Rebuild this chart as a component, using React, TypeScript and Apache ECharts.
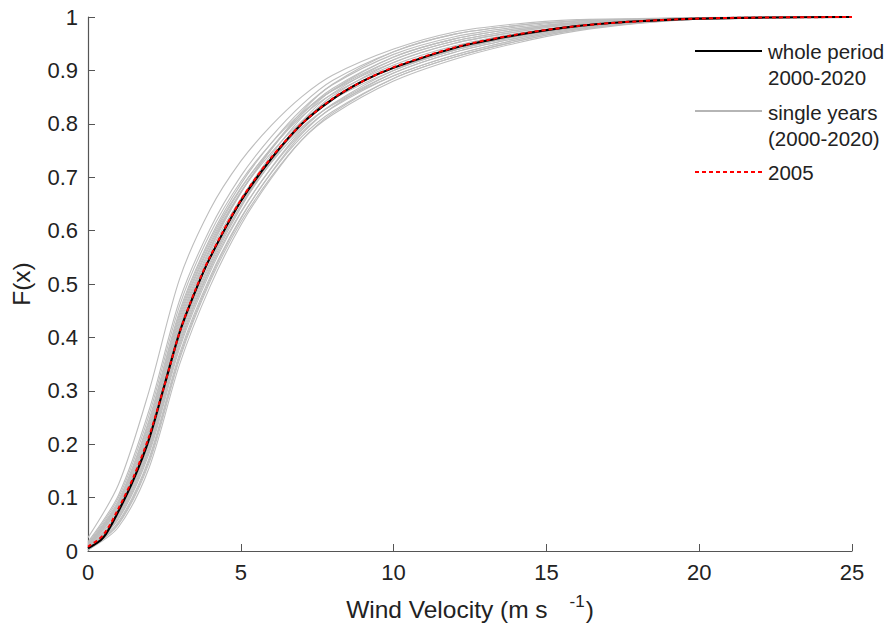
import React, { useEffect, useRef } from "react";
import * as echarts from "echarts";

// x grid for the main curves
const xMain = [0, 0.5, 1, 1.5, 2, 2.5, 3, 3.5, 4, 5, 6, 7, 8, 9, 10, 12, 14, 16, 18, 20, 22, 25];
const wholePeriod = [0.005, 0.025, 0.075, 0.135, 0.21, 0.31, 0.41, 0.485, 0.55, 0.655, 0.735, 0.8, 0.846, 0.88, 0.905, 0.942, 0.966, 0.983, 0.992, 0.997, 0.999, 1];
const year2005 = [0.008, 0.03, 0.08, 0.14, 0.215, 0.31, 0.41, 0.487, 0.552, 0.657, 0.737, 0.8, 0.847, 0.88, 0.906, 0.943, 0.967, 0.983, 0.992, 0.997, 0.999, 1];

// x grid for single years
const xYears = [0, 1, 2, 3, 4, 5, 6, 7, 8, 10, 12, 14, 16, 18, 20, 25];
const y2000 = [0.011, 0.09, 0.237, 0.44, 0.577, 0.678, 0.755, 0.818, 0.863, 0.92, 0.955, 0.975, 0.988, 0.994, 0.998, 1];
const y2001 = [0.002, 0.055, 0.174, 0.37, 0.514, 0.624, 0.708, 0.776, 0.823, 0.885, 0.925, 0.954, 0.976, 0.989, 0.996, 1];
const y2002 = [0.017, 0.105, 0.264, 0.47, 0.604, 0.702, 0.776, 0.836, 0.881, 0.935, 0.968, 0.984, 0.993, 0.996, 0.999, 1];
const y2003 = [0.003, 0.065, 0.192, 0.39, 0.532, 0.643, 0.729, 0.8, 0.852, 0.915, 0.951, 0.972, 0.987, 0.993, 0.997, 1];
const y2004 = [0.007, 0.08, 0.219, 0.42, 0.559, 0.66, 0.735, 0.794, 0.835, 0.89, 0.929, 0.957, 0.978, 0.99, 0.996, 1];
const y2006 = [0.002, 0.05, 0.165, 0.36, 0.505, 0.616, 0.701, 0.77, 0.817, 0.88, 0.921, 0.951, 0.974, 0.988, 0.996, 1];
const y2007 = [0.009, 0.085, 0.228, 0.43, 0.568, 0.672, 0.752, 0.818, 0.866, 0.925, 0.959, 0.978, 0.99, 0.995, 0.998, 1];
const y2008 = [0.003, 0.06, 0.183, 0.38, 0.523, 0.633, 0.718, 0.788, 0.837, 0.9, 0.938, 0.963, 0.981, 0.991, 0.997, 1];
const y2009 = [0.013, 0.095, 0.246, 0.45, 0.586, 0.687, 0.764, 0.827, 0.873, 0.93, 0.963, 0.981, 0.992, 0.996, 0.998, 1];
const y2010 = [0.004, 0.07, 0.201, 0.4, 0.541, 0.647, 0.727, 0.791, 0.836, 0.895, 0.934, 0.96, 0.98, 0.99, 0.996, 1];
const y2011 = [0.025, 0.125, 0.3, 0.51, 0.64, 0.73, 0.797, 0.851, 0.891, 0.94, 0.972, 0.987, 0.995, 0.997, 0.999, 1];
const y2012 = [0.002, 0.045, 0.156, 0.35, 0.496, 0.61, 0.698, 0.77, 0.82, 0.885, 0.925, 0.954, 0.976, 0.989, 0.996, 1];
const y2013 = [0.008, 0.082, 0.224, 0.425, 0.564, 0.67, 0.753, 0.823, 0.874, 0.935, 0.968, 0.984, 0.993, 0.996, 0.999, 1];
const y2014 = [0.003, 0.062, 0.188, 0.385, 0.528, 0.635, 0.717, 0.784, 0.83, 0.89, 0.929, 0.957, 0.978, 0.99, 0.996, 1];
const y2015 = [0.015, 0.1, 0.255, 0.46, 0.595, 0.692, 0.764, 0.821, 0.862, 0.915, 0.951, 0.972, 0.987, 0.993, 0.997, 1];
const y2016 = [0.006, 0.075, 0.21, 0.41, 0.55, 0.658, 0.742, 0.812, 0.863, 0.925, 0.959, 0.978, 0.99, 0.995, 0.998, 1];
const y2017 = [0.002, 0.052, 0.17, 0.365, 0.51, 0.622, 0.709, 0.781, 0.831, 0.895, 0.934, 0.96, 0.98, 0.99, 0.996, 1];
const y2018 = [0.01, 0.088, 0.232, 0.435, 0.573, 0.672, 0.746, 0.805, 0.846, 0.9, 0.938, 0.963, 0.981, 0.991, 0.997, 1];
const y2019 = [0.004, 0.068, 0.196, 0.395, 0.537, 0.647, 0.733, 0.805, 0.857, 0.92, 0.955, 0.975, 0.988, 0.994, 0.998, 1];
const y2020 = [0.012, 0.092, 0.242, 0.445, 0.582, 0.68, 0.754, 0.814, 0.856, 0.91, 0.946, 0.969, 0.985, 0.993, 0.997, 1];

const singleYears: [string, number[]][] = [
  ["2000", y2000], ["2001", y2001], ["2002", y2002], ["2003", y2003], ["2004", y2004],
  ["2006", y2006], ["2007", y2007], ["2008", y2008], ["2009", y2009], ["2010", y2010],
  ["2011", y2011], ["2012", y2012], ["2013", y2013], ["2014", y2014], ["2015", y2015],
  ["2016", y2016], ["2017", y2017], ["2018", y2018], ["2019", y2019], ["2020", y2020],
];

const legendLabels = ["whole period", "2000-2020", "single years", "(2000-2020)", "2005"];

const FONT = "'Liberation Sans', Arial, Helvetica, sans-serif";

export default function App() {
  const ref = useRef<HTMLDivElement>(null);
  useEffect(() => {
    if (!ref.current) return;
    document.body.style.margin = "0";
    document.body.style.overflow = "hidden";
    const chart = echarts.init(ref.current, undefined, { renderer: "svg" });
    const pair = (xs: number[], ys: number[]) => xs.map((x, i) => [x, ys[i]]);
    const graySeries = singleYears.map(([name, ys]) => ({
      name,
      type: "line",
      data: pair(xYears, ys),
      smooth: 0.3,
      showSymbol: false,
      lineStyle: { color: "#bdbdbd", width: 1.1 },
      z: 2,
    }));
    const legendText = (i: number, x: number, y: number) => ({
      type: "text",
      x,
      y,
      style: { text: legendLabels[i], font: `20.5px ${FONT}`, fill: "#222", verticalAlign: "middle" },
    });
    chart.setOption({
      animation: false,
      backgroundColor: "#ffffff",
      textStyle: { fontFamily: FONT },
      grid: { left: 88, right: 37, top: 17, bottom: 77 },
      xAxis: {
        type: "value",
        min: 0,
        max: 25,
        interval: 5,
        name: "{a|Wind Velocity (m s}{s|-1}{a|)}",
        nameLocation: "middle",
        nameGap: 42,
        nameTextStyle: {
          rich: {
            a: { fontSize: 24.5, color: "#222", fontFamily: FONT },
            s: { fontSize: 17, color: "#222", fontFamily: FONT, padding: [0, 1, 15, 22] },
          },
        },
        axisLine: { lineStyle: { color: "#555", width: 1.2 } },
        axisTick: { inside: true, length: 7, lineStyle: { color: "#555" } },
        axisLabel: { fontSize: 22, color: "#222", margin: 10, fontFamily: FONT },
        splitLine: { show: false },
      },
      yAxis: {
        type: "value",
        min: 0,
        max: 1,
        interval: 0.1,
        name: "F(x)",
        nameLocation: "middle",
        nameGap: 54,
        nameTextStyle: { fontSize: 24.5, color: "#222", fontFamily: FONT },
        axisLine: { show: true, lineStyle: { color: "#555", width: 1.2 } },
        axisTick: { show: true, inside: true, length: 7, lineStyle: { color: "#555" } },
        axisLabel: {
          fontSize: 22,
          color: "#222",
          margin: 10,
          fontFamily: FONT,
          formatter: (v: number) => String(Math.round(v * 10) / 10),
        },
        splitLine: { show: false },
      },
      series: [
        ...graySeries,
        {
          name: "whole period 2000-2020",
          type: "line",
          data: pair(xMain, wholePeriod),
          smooth: 0.3,
          showSymbol: false,
          lineStyle: { color: "#000000", width: 2.2 },
          z: 3,
        },
        {
          name: "2005",
          type: "line",
          data: pair(xMain, year2005),
          smooth: 0.3,
          showSymbol: false,
          lineStyle: { color: "#ff0000", width: 2, type: [4, 3] },
          z: 4,
        },
      ],
      graphic: [
        { type: "line", shape: { x1: 695, y1: 51, x2: 762, y2: 51 }, style: { stroke: "#000", lineWidth: 2 } },
        legendText(0, 768, 51),
        legendText(1, 768, 77),
        { type: "line", shape: { x1: 695, y1: 111, x2: 762, y2: 111 }, style: { stroke: "#b5b5b5", lineWidth: 2 } },
        legendText(2, 768, 112),
        legendText(3, 768, 138),
        { type: "line", shape: { x1: 695, y1: 172, x2: 762, y2: 172 }, style: { stroke: "#ff0000", lineWidth: 2, lineDash: [4, 3] } },
        legendText(4, 768, 172),
      ],
    });
    return () => chart.dispose();
  }, []);
  return <div ref={ref} style={{ width: 889, height: 628 }} />;
}
